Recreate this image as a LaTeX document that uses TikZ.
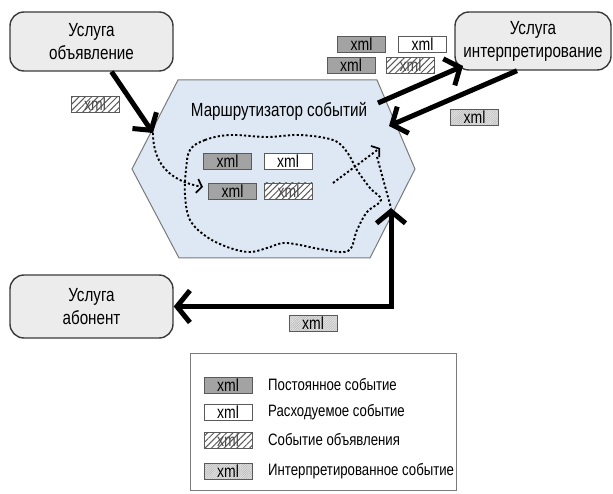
\documentclass[tikz,border=0pt]{standalone}
\usepackage{fontspec}
\setmainfont{Liberation Sans}[FakeStretch=0.8]
\usetikzlibrary{arrows.meta,patterns.meta}

\definecolor{svcfill}{HTML}{ECECEC}
\definecolor{svcline}{HTML}{3A3A3A}
\definecolor{hexfill}{HTML}{DDE8F4}
\definecolor{hexline}{HTML}{7A7A7A}
\definecolor{persfill}{HTML}{A3A3A3}
\definecolor{boxline}{HTML}{5A5A5A}

\begin{document}
\begin{tikzpicture}[x=1pt,y=-1pt,
  svc/.style={draw=svcline, line width=1.4pt, fill=svcfill, rounded corners=14pt,
    align=center, font=\fontsize{19}{23}\selectfont, inner sep=0pt},
  flow/.style={line width=5pt, -{Straight Barb[length=12pt,width=29pt]}},
  flowboth/.style={line width=5pt, {Straight Barb[length=12pt,width=29pt]}-{Straight Barb[length=13pt,width=32pt]}},
  dots/.style={line width=1.9pt, dash pattern=on 2.2pt off 2.2pt},
  dotarrow/.style={dots, -{Straight Barb[length=5pt,width=14pt,line width=1.7pt]}},
  xmlbox/.style={draw=boxline, line width=0.9pt, minimum width=48pt, minimum height=16pt,
    inner sep=0pt, font=\fontsize{17.5}{17}\selectfont},
  pers/.style={xmlbox, fill=persfill},
  cons/.style={xmlbox, fill=white},
  anno/.style={xmlbox, preaction={fill=white}, text=black!70,
    pattern={Lines[angle=45,distance=4.5pt,line width=1pt]}, pattern color=black!65},
  intp/.style={xmlbox, preaction={fill=gray!22},
    pattern={Lines[angle=45,distance=1.6pt,line width=0.45pt]}, pattern color=gray!60},
  legtext/.style={anchor=west, inner sep=0pt, font=\fontsize{16.5}{18}\selectfont}
]
\useasboundingbox (0,0) rectangle (613,494);

% event router
\draw[fill=hexfill, draw=hexline, line width=1pt]
  (178,80) -- (377,80) -- (415,169) -- (370,258) -- (179,258) -- (132,169) -- cycle;
\node[font=\fontsize{19}{22}\selectfont] (router) at (279,111) {Маршрутизатор событий};

% services
\node[svc, minimum width=163pt, minimum height=59pt] (pub) at (91.5,41.5) {Услуга\\объявление};
\node[svc, minimum width=156pt, minimum height=58pt] (interp) at (533,41) {Услуга\\интерпретирование};
\node[svc, minimum width=163pt, minimum height=63pt] (sub) at (91.5,306.5) {Услуга\\абонент};

% attachment points on the router
\coordinate (inL) at (153,133);
\coordinate (outR) at (378,103);
\coordinate (backR) at (389,126);
\coordinate (tipB) at (391,208);
\coordinate (inI) at (463,66);

% events inside the router
\node[pers] (p1) at (227.5,161.5) {xml};
\node[cons] (c1) at (288,161.5) {xml};
\node[pers] (p2) at (232.5,191) {xml};
\node[anno] (a1) at (288.5,191) {xml};

% events in transit
\node[pers] (p3) at (361.5,44.5) {xml};
\node[cons] (c2) at (422.5,44.5) {xml};
\node[pers] (p4) at (351,65.5) {xml};
\node[anno] (a2) at (410.5,65.5) {xml};
\node[anno] (a3) at (95,104.5) {xml};
\node[intp] (i1) at (474.5,117.5) {xml};
\node[intp] (i2) at (313,323.5) {xml};

% flows between services and router
\draw[flow] ([xshift=20pt]pub.south) -- (inL);
\draw[flow] (outR) -- (inI);
\draw[flow] ([xshift=-16pt]interp.south) -- (backR);
\draw[flowboth] (tipB) |- (sub.east);

% routing paths inside the router
\draw[dotarrow] (inL) .. controls (153,168) and (175,182) .. (203,187);
\draw[dots] plot[smooth cycle, tension=0.6] coordinates {
  (190,150) (205,140) (230,135) (267,137) (300,135) (333,140) (347,152)
  (357,170) (370,188) (381,200) (367,212) (357,230) (348,251) (320,249)
  (300,245) (283,243) (267,248) (250,252) (230,248) (207,237) (190,220)
  (185,195) (186,170)};
\draw[dotarrow] (333,183) -- (380,148);
\draw[dots] (377,157) -- (tipB);

% legend
\draw[draw=hexline, line width=1pt, fill=white] (190,353) rectangle (456,490);
\node[pers] (lp) at (228,385) {xml};
\node[cons] (lc) at (228,412) {xml};
\node[anno] (la) at (228,440) {xml};
\node[intp] (li) at (228,471) {xml};
\node[legtext] at (268,385) {Постоянное событие};
\node[legtext] at (268,412) {Расходуемое событие};
\node[legtext] at (268,440) {Событие объявления};
\node[legtext] at (268,471) {Интерпретированное событие};
\end{tikzpicture}
\end{document}
